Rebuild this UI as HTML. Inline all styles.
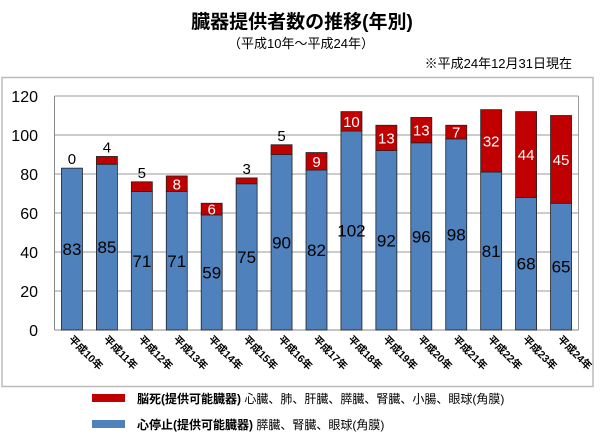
<!DOCTYPE html><html><head><meta charset="utf-8"><style>body{margin:0;background:#fff}svg{display:block}text{font-family:"Liberation Sans","Noto Sans CJK JP",sans-serif}</style></head><body>
<svg width="600" height="440" xmlns="http://www.w3.org/2000/svg">
<text x="302" y="28" font-size="19" text-anchor="middle" font-weight="bold">臓器提供者数の推移(年別)</text>
<text x="301" y="48" font-size="13" text-anchor="middle">（平成10年～平成24年）</text>
<text x="572" y="68" font-size="13" text-anchor="end">※平成24年12月31日現在</text>
<rect x="2" y="77.5" width="591" height="309" fill="none" stroke="#bbb" stroke-width="1.5"/>
<g id="c"></g>
</svg>
<script>
const g=document.getElementById('c');let s='';
const L=54.5,R=578.5,B=330,k=1.95;
for(let v=0;v<=120;v+=20){const y=B-v*k;s+=`<line x1="${L}" x2="${R}" y1="${y}" y2="${y}" stroke="${v==0?'#888':'#999'}" stroke-width="1"/>`;s+=`<text x="38" y="${y+6}" font-size="16" text-anchor="end">${v}</text>`;}
s+=`<line x1="${L}" x2="${L}" y1="96" y2="330" stroke="#888"/><line x1="${R}" x2="${R}" y1="96" y2="330" stroke="#999"/>`;
const bl=[83,85,71,71,59,75,90,82,102,92,96,98,81,68,65],rd=[0,4,5,8,6,3,5,9,10,13,13,7,32,44,45];
const sl=(R-L)/15;
for(let i=0;i<15;i++){const cx=L+sl*(i+.5),x=cx-10.5;const yb=B-bl[i]*k,yr=yb-rd[i]*k;
s+=`<rect x="${x}" y="${yb}" width="21" height="${bl[i]*k}" fill="#4f81bd" stroke="#222" stroke-width="0.8"/>`;
if(rd[i])s+=`<rect x="${x}" y="${yr}" width="21" height="${rd[i]*k}" fill="#c00000" stroke="#222" stroke-width="0.8"/>`;
s+=`<text x="${cx}" y="${(yb+B)/2+6}" font-size="17" text-anchor="middle">${bl[i]}</text>`;
if(rd[i]<=5)s+=`<text x="${cx}" y="${yr-4}" font-size="15" text-anchor="middle">${rd[i]}</text>`;
else s+=`<text x="${cx}" y="${(yr+yb)/2+5.5}" font-size="15" fill="#fff" text-anchor="middle">${rd[i]}</text>`;
s+=`<text transform="translate(${cx-4},${340}) rotate(45)" font-size="10.5" font-weight="bold">平成${10+i}年</text>`;}
s+=`<rect x="92" y="394" width="33" height="8" fill="#c00000"/><text x="137" y="403" font-size="12"><tspan font-weight="bold">脳死(提供可能臓器)</tspan> 心臓、肺、肝臓、膵臓、腎臓、小腸、眼球(角膜)</text>`;
s+=`<rect x="92" y="420" width="33" height="8" fill="#4f81bd"/><text x="137" y="429" font-size="12"><tspan font-weight="bold">心停止(提供可能臓器)</tspan> 膵臓、腎臓、眼球(角膜)</text>`;
g.innerHTML=s;
</script></body></html>
